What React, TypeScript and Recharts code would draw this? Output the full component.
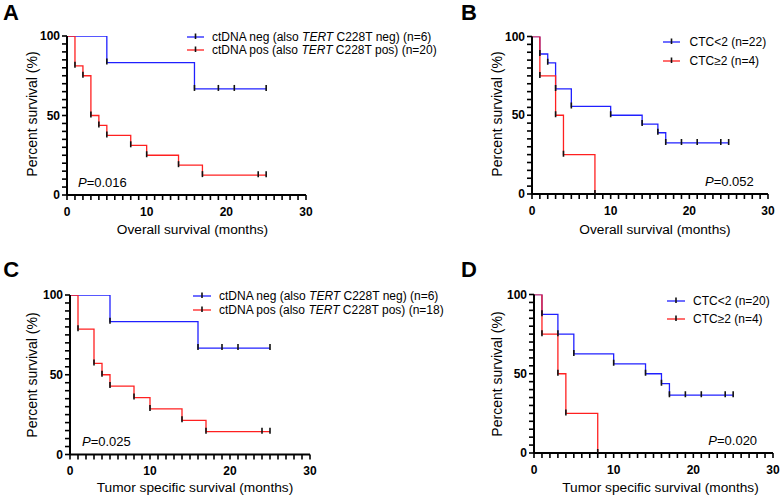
import React from 'react';
import { LineChart, Line, XAxis, YAxis, Legend } from 'recharts';

const FONT = '"Liberation Sans", Arial, Helvetica, sans-serif';
const BLUE = '#2020ff';
const RED = '#ff2020';

// ticks
const monthTicks = [0, 1, 2, 3, 4, 5, 6, 7, 8, 9, 10, 11, 12, 13, 14, 15, 16, 17, 18, 19, 20, 21, 22, 23, 24, 25, 26, 27, 28, 29, 30];
const monthLabels = [0, 10, 20, 30];
const percentTicks = [0, 5, 10, 15, 20, 25, 30, 35, 40, 45, 50, 55, 60, 65, 70, 75, 80, 85, 90, 95, 100];
const percentLabels = [0, 50, 100];

// Panel A: overall survival by ctDNA
const aNegTime = [0, 5, 16, 19, 21, 25];
const aNegSurv = [100, 83.3, 66.7, 66.7, 66.7, 66.7];
const aPosTime = [0, 1, 2, 3, 4, 5, 8, 10, 14, 17, 24, 25];
const aPosSurv = [100, 81.25, 75, 50, 43.75, 37.5, 31.25, 25, 18.75, 12.5, 12.5, 12.5];

// Panel B: overall survival by CTC
const bLowTime = [0, 1, 2, 3, 5, 10, 14, 16, 17, 19, 21, 24, 25];
const bLowSurv = [100, 88.9, 83.3, 66.7, 55.6, 50, 44.4, 38.9, 32.4, 32.4, 32.4, 32.4, 32.4];
const bHighTime = [0, 1, 3, 4, 8];
const bHighSurv = [100, 75, 50, 25, 0];

// Panel C: tumor specific survival by ctDNA
const cNegTime = [0, 5, 16, 19, 21, 25];
const cNegSurv = [100, 83.3, 66.7, 66.7, 66.7, 66.7];
const cPosTime = [0, 1, 3, 4, 5, 8, 10, 14, 17, 24, 25];
const cPosSurv = [100, 78.6, 57.1, 50, 42.9, 35.7, 28.6, 21.4, 14.3, 14.3, 14.3];

// Panel D: tumor specific survival by CTC
const dLowTime = [0, 1, 3, 5, 10, 14, 16, 17, 19, 21, 24, 25];
const dLowSurv = [100, 87.5, 75, 62.5, 56.25, 50, 43.75, 36.5, 36.5, 36.5, 36.5, 36.5];
const dHighTime = [0, 1, 3, 4, 8];
const dHighSurv = [100, 75, 50, 25, 0];

const zip = (t: number[], s: number[]) => t.map((v, i) => ({ t: v, s: s[i] }));

const ctdnaNeg = (
  <span>ctDNA neg (also <i>TERT</i> C228T neg) (n=6)</span>
);
const ctdnaPos = (n: number) => (
  <span>ctDNA pos (also <i>TERT</i> C228T pos) (n={n})</span>
);

type Rect = { l: number; t: number; r: number; b: number };
type Series = { name: React.ReactNode; color: string; data: { t: number; s: number }[] };
type PanelSpec = {
  letter: string;
  letterPos: [number, number];
  x0: number;
  y0: number;
  plot: Rect;
  series: Series[];
  pText: string;
  pPos: [number, number];
  xTitle: string;
  xTitlePos: [number, number];
  yTitlePos: [number, number];
  legend: { lineX: number; lineLen: number; textX: number; row1: number; gap: number };
};

const panels: PanelSpec[] = [
  {
    letter: 'A', letterPos: [11, 13], x0: 0, y0: 0,
    plot: { l: 67, t: 36, r: 306, b: 195 },
    series: [
      { name: ctdnaNeg, color: BLUE, data: zip(aNegTime, aNegSurv) },
      { name: ctdnaPos(20), color: RED, data: zip(aPosTime, aPosSurv) },
    ],
    pText: '0.016', pPos: [78, 182],
    xTitle: 'Overall survival (months)', xTitlePos: [192.5, 230],
    yTitlePos: [31.7, 114],
    legend: { lineX: 187, lineLen: 17, textX: 212, row1: 37, gap: 13 },
  },
  {
    letter: 'B', letterPos: [469, 13], x0: 390, y0: 0,
    plot: { l: 532, t: 36.5, r: 768, b: 194 },
    series: [
      { name: <span>CTC&lt;2 (n=22)</span>, color: BLUE, data: zip(bLowTime, bLowSurv) },
      { name: <span>CTC≥2 (n=4)</span>, color: RED, data: zip(bHighTime, bHighSurv) },
    ],
    pText: '0.052', pPos: [705, 180.5],
    xTitle: 'Overall survival (months)', xTitlePos: [655, 230],
    yTitlePos: [496.7, 114],
    legend: { lineX: 663, lineLen: 17, textX: 689.5, row1: 42, gap: 19 },
  },
  {
    letter: 'C', letterPos: [11.3, 270.3], x0: 0, y0: 249,
    plot: { l: 70, t: 295, r: 310, b: 454.5 },
    series: [
      { name: ctdnaNeg, color: BLUE, data: zip(cNegTime, cNegSurv) },
      { name: ctdnaPos(18), color: RED, data: zip(cPosTime, cPosSurv) },
    ],
    pText: '0.025', pPos: [82, 440.7],
    xTitle: 'Tumor specific survival (months)', xTitlePos: [195, 488.3],
    yTitlePos: [32, 374.5],
    legend: { lineX: 193, lineLen: 18, textX: 219, row1: 296, gap: 13.5 },
  },
  {
    letter: 'D', letterPos: [469, 270.3], x0: 390, y0: 249,
    plot: { l: 534, t: 294.5, r: 773, b: 453 },
    series: [
      { name: <span>CTC&lt;2 (n=20)</span>, color: BLUE, data: zip(dLowTime, dLowSurv) },
      { name: <span>CTC≥2 (n=4)</span>, color: RED, data: zip(dHighTime, dHighSurv) },
    ],
    pText: '0.020', pPos: [708.3, 439.7],
    xTitle: 'Tumor specific survival (months)', xTitlePos: [660.5, 488.3],
    yTitlePos: [497, 374],
    legend: { lineX: 667, lineLen: 18, textX: 693, row1: 301, gap: 17.5 },
  },
];

const W = 390;
const H = 249;
const YW = 40;
const XH = 30;

const XTick = (props: any) => {
  const { x, y, payload } = props;
  const major = monthLabels.includes(payload.value);
  return (
    <g>
      <line x1={x} x2={x} y1={y} y2={y + 5} stroke="#000" strokeWidth={1.6} />
      {major && (
        <text x={x} y={y + 16.5} textAnchor="middle" dominantBaseline="central"
          fontFamily={FONT} fontWeight="bold" fontSize={12} fill="#000">
          {payload.value}
        </text>
      )}
    </g>
  );
};

const YTick = (props: any) => {
  const { x, y, payload } = props;
  const major = percentLabels.includes(payload.value);
  return (
    <g>
      <line x1={x - 5} x2={x} y1={y} y2={y} stroke="#000" strokeWidth={1.6} />
      {major && (
        <text x={x - 7} y={y} textAnchor="end" dominantBaseline="central"
          fontFamily={FONT} fontWeight="bold" fontSize={12} fill="#000">
          {payload.value}
        </text>
      )}
    </g>
  );
};

const CensorDot = (props: any) => {
  const { cx, cy, index } = props;
  if (index === 0 || cx == null || cy == null) return <g key={`d${index}`} />;
  return <line key={`d${index}`} x1={cx} x2={cx} y1={cy - 4} y2={cy + 2} stroke="#111" strokeWidth={1.6} />;
};

const abs = (cx: number, cy: number, extra: React.CSSProperties = {}, rotate = false): React.CSSProperties => ({
  position: 'absolute',
  left: cx,
  top: cy,
  transform: `translate(-50%, -50%)${rotate ? ' rotate(-90deg)' : ''}`,
  whiteSpace: 'nowrap',
  lineHeight: 1,
  fontFamily: FONT,
  color: '#000',
  ...extra,
});

function Panel({ p }: { p: PanelSpec }) {
  const margin = {
    left: p.plot.l - p.x0 - YW,
    top: p.plot.t - p.y0,
    right: p.x0 + W - p.plot.r,
    bottom: p.y0 + H - p.plot.b - XH,
  };
  const lg = p.legend;
  const legendContent = () => (
    <div style={{ position: 'relative', width: 260, height: lg.gap * 2 }}>
      {p.series.map((s, i) => (
        <div key={i} style={{ position: 'absolute', left: 0, top: i * lg.gap, height: 14, display: 'flex', alignItems: 'center' }}>
          <svg width={lg.lineLen} height={14} style={{ display: 'block' }}>
            <line x1={0} x2={lg.lineLen} y1={7} y2={7} stroke={s.color} strokeWidth={1.3} />
            <line x1={lg.lineLen / 2} x2={lg.lineLen / 2} y1={3.5} y2={9} stroke="#111" strokeWidth={1.6} />
          </svg>
          <span style={{ marginLeft: lg.textX - lg.lineX - lg.lineLen, fontFamily: FONT, fontSize: 12, color: '#000', whiteSpace: 'nowrap' }}>
            {s.name}
          </span>
        </div>
      ))}
    </div>
  );
  return (
    <div style={{ position: 'absolute', left: p.x0, top: p.y0, width: W, height: H }}>
      <LineChart width={W} height={H} margin={margin} style={{ position: 'absolute', left: 0, top: 0 }}>
        <XAxis
          dataKey="t"
          type="number"
          domain={[0, 30]}
          ticks={monthTicks}
          interval={0}
          height={XH}
          tickSize={0}
          tickMargin={0}
          tickLine={false}
          tick={<XTick />}
          axisLine={{ stroke: '#000', strokeWidth: 2 }}
          allowDataOverflow
        />
        <YAxis
          type="number"
          domain={[0, 100]}
          ticks={percentTicks}
          interval={0}
          width={YW}
          tickSize={0}
          tickMargin={0}
          tickLine={false}
          tick={<YTick />}
          axisLine={{ stroke: '#000', strokeWidth: 2 }}
          allowDataOverflow
        />
        <Legend
          layout="horizontal"
          verticalAlign="middle"
          align="center"
          content={legendContent}
          wrapperStyle={{ left: lg.lineX - p.x0, top: lg.row1 - p.y0 - 7, width: 260, height: lg.gap * 2 }}
        />
        {p.series.map((s, i) => (
          <Line
            key={i}
            data={s.data}
            dataKey="s"
            type="stepAfter"
            stroke={s.color}
            strokeWidth={1.3}
            dot={CensorDot}
            activeDot={false}
            isAnimationActive={false}
            legendType="none"
          />
        ))}
      </LineChart>
    </div>
  );
}

export default function App() {
  return (
    <div style={{ position: 'absolute', left: 0, top: 0, width: 780, height: 498, background: '#fff', overflow: 'hidden' }}>
      {panels.map((p) => (
        <Panel key={p.letter} p={p} />
      ))}
      {panels.map((p) => (
        <React.Fragment key={`t${p.letter}`}>
          <div style={abs(p.letterPos[0], p.letterPos[1], { fontSize: 22, fontWeight: 'bold' })}>{p.letter}</div>
          <div style={abs(p.xTitlePos[0], p.xTitlePos[1], { fontSize: 13.7 })}>{p.xTitle}</div>
          <div style={abs(p.yTitlePos[0], p.yTitlePos[1], { fontSize: 14 }, true)}>Percent survival (%)</div>
          <div style={{ position: 'absolute', left: p.pPos[0], top: p.pPos[1], transform: 'translateY(-50%)', fontFamily: FONT, fontSize: 13, lineHeight: 1, whiteSpace: 'nowrap', color: '#000' }}>
            <i>P</i>={p.pText}
          </div>
        </React.Fragment>
      ))}
    </div>
  );
}
